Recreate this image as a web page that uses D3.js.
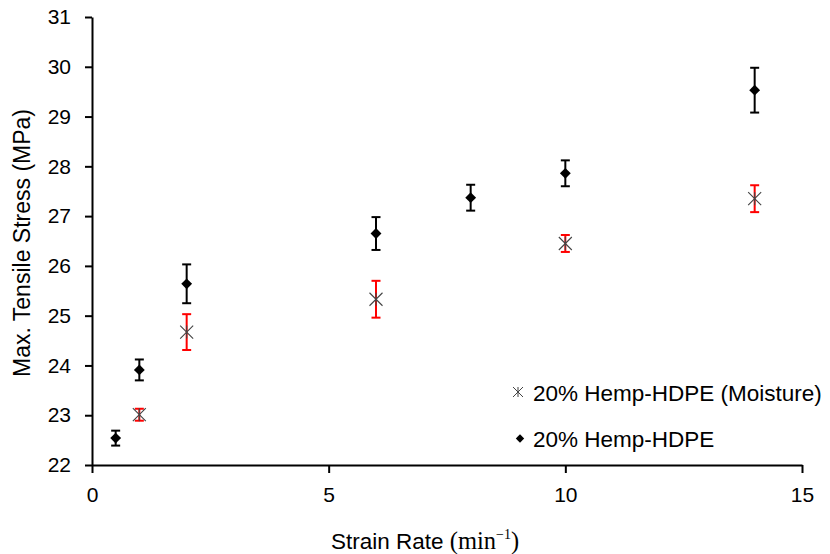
<!DOCTYPE html>
<html>
<head>
<meta charset="utf-8">
<script src="https://cdn.jsdelivr.net/npm/d3@7"></script>
<style>
  html, body { margin: 0; padding: 0; background: #fff; }
  svg { display: block; }
  text { font-family: "Liberation Sans", Arial, sans-serif; }
</style>
</head>
<body>
<svg id="chart" width="830" height="554"></svg>
<script>
// ---- data ----
const dryX = [0.5, 1, 2, 6, 8, 10, 14];
const dryY = [22.54, 23.91, 25.64, 26.65, 27.37, 27.86, 29.53];
const dryErr = [0.15, 0.21, 0.39, 0.33, 0.26, 0.26, 0.45];

const moistX = [1, 2, 6, 10, 14];
const moistY = [23.01, 24.67, 25.33, 26.45, 27.35];
const moistErr = [0.12, 0.36, 0.37, 0.17, 0.27];

const xTicks = [0, 5, 10, 15];
const yTicks = [22, 23, 24, 25, 26, 27, 28, 29, 30, 31];

const seriesNames = ["20% Hemp-HDPE (Moisture)", "20% Hemp-HDPE"];

// ---- layout ----
const svg = d3.select("#chart");
const x = d3.scaleLinear().domain([0, 15]).range([92, 802]);
const y = d3.scaleLinear().domain([22, 31]).range([465, 17]);

// axes
const xAxis = d3.axisBottom(x).tickValues(xTicks).tickSize(8).tickPadding(14).tickSizeOuter(0);
const yAxis = d3.axisLeft(y).tickValues(yTicks).tickSize(7).tickPadding(14).tickSizeOuter(0);

const gx = svg.append("g").attr("transform", "translate(0,465)").call(xAxis);
const gy = svg.append("g").attr("transform", "translate(92,0)").call(yAxis);
[gx, gy].forEach(g => {
  g.selectAll("path.domain").attr("stroke", "#000").attr("stroke-width", 2);
  g.selectAll(".tick line").attr("stroke", "#000").attr("stroke-width", 2);
  g.selectAll(".tick text").attr("fill", "#000").attr("font-size", 21)
    .attr("font-family", "'Liberation Sans', Arial, sans-serif");
});

// axis titles
const serif = "'Liberation Serif', 'Times New Roman', serif";
const xt = svg.append("text").attr("x", 425).attr("y", 549).attr("text-anchor", "middle")
  .attr("font-size", 22.5).attr("fill", "#000");
xt.append("tspan").text("Strain Rate ");
xt.append("tspan").attr("font-family", serif).attr("font-size", 24.5).text("(min");
xt.append("tspan").attr("font-family", serif).attr("font-size", 14).attr("dy", -10).text("−1");
xt.append("tspan").attr("font-family", serif).attr("font-size", 24.5).attr("dy", 10).text(")");

svg.append("text").attr("transform", "translate(30,243) rotate(-90)").attr("text-anchor", "middle")
  .attr("font-size", 23).attr("fill", "#000").text("Max. Tensile Stress (MPa)");

// error bars
function errorBars(xs, ys, es, color) {
  const g = svg.append("g");
  xs.forEach((xv, i) => {
    const cx = x(xv), top = y(ys[i] + es[i]), bot = y(ys[i] - es[i]);
    g.append("line").attr("x1", cx).attr("x2", cx).attr("y1", top).attr("y2", bot)
      .attr("stroke", color).attr("stroke-width", 2);
    [top, bot].forEach(yy => g.append("line").attr("x1", cx - 4.5).attr("x2", cx + 4.5)
      .attr("y1", yy).attr("y2", yy).attr("stroke", color).attr("stroke-width", 2));
  });
}
errorBars(moistX, moistY, moistErr, "#ff0000");
errorBars(dryX, dryY, dryErr, "#000");

// star marker (x with vertical line)
function star(g, cx, cy, r, sw) {
  g.append("path")
    .attr("d", `M${cx - r},${cy - r}L${cx + r},${cy + r}M${cx - r},${cy + r}L${cx + r},${cy - r}M${cx},${cy - r}L${cx},${cy + r}`)
    .attr("stroke", "#444").attr("stroke-width", sw).attr("fill", "none");
}
const gm = svg.append("g");
moistX.forEach((xv, i) => star(gm, x(xv), y(moistY[i]), 6.5, 1.1));

// diamond markers
const diamond = d3.symbol().type(d3.symbolDiamond2).size(75);
svg.append("g").selectAll("path").data(dryX).join("path")
  .attr("d", diamond)
  .attr("transform", (d, i) => `translate(${x(d)},${y(dryY[i])})`)
  .attr("fill", "#000");

// legend
const lg = svg.append("g");
star(lg, 518, 392, 5, 1);
lg.append("text").attr("x", 533).attr("y", 400.5).attr("font-size", 22.5).attr("fill", "#000").text(seriesNames[0]);
lg.append("path").attr("d", d3.symbol().type(d3.symbolDiamond2).size(45)).attr("transform", "translate(520,438.5)").attr("fill", "#000");
lg.append("text").attr("x", 533).attr("y", 447).attr("font-size", 22.5).attr("fill", "#000").text(seriesNames[1]);
</script>
</body>
</html>
